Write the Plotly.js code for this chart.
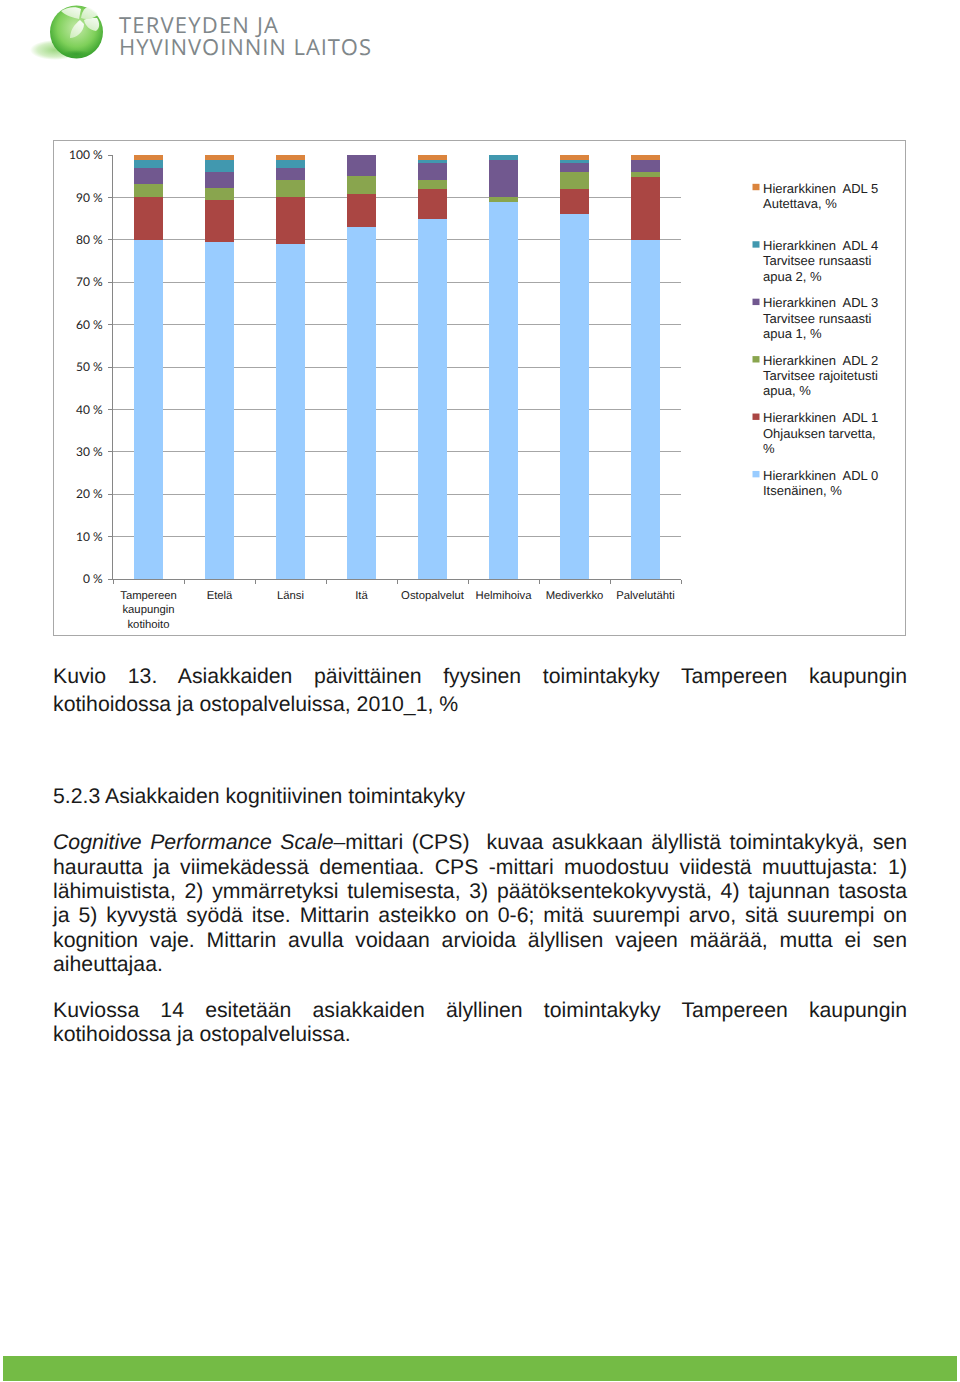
<!DOCTYPE html>
<html lang="fi">
<head>
<meta charset="utf-8">
<script src="https://cdn.plot.ly/plotly-3.0.1.min.js"></script>
<style>
html,body{margin:0;padding:0;background:#fff;}
#page{position:relative;width:960px;height:1382px;overflow:hidden;font-family:"Liberation Sans",Arial,sans-serif;color:#1a1a1a;text-rendering:geometricPrecision;}
#logo{position:absolute;left:0;top:0;}
#chart{position:absolute;left:53px;top:140px;width:851px;height:494px;border:1.5px solid #a8a8a8;}
.ln{position:absolute;left:53px;width:854px;font-size:21.25px;line-height:24px;white-space:nowrap;text-align:justify;text-align-last:justify;}
.ln.last{text-align-last:left;}
#foot{position:absolute;left:3px;top:1356px;width:954px;height:25px;background:#74bb45;}
</style>
</head>
<body>
<div id="page">
<svg id="logo" width="400" height="70" viewBox="0 0 400 70">
<defs>
<radialGradient id="g" cx="0.5" cy="0.42" r="0.6"><stop offset="0" stop-color="#c4eaa8"/><stop offset="0.6" stop-color="#7fd05a"/><stop offset="0.9" stop-color="#45aa35"/><stop offset="1" stop-color="#2f9a2c"/></radialGradient>
<radialGradient id="s"><stop offset="0" stop-color="#9fd884"/><stop offset="0.7" stop-color="#d5efc6"/><stop offset="1" stop-color="#ffffff"/></radialGradient>
<radialGradient id="d"><stop offset="0" stop-color="#2f9a2c" stop-opacity="0.75"/><stop offset="1" stop-color="#2f9a2c" stop-opacity="0"/></radialGradient>
<linearGradient id="p" x1="0.8" y1="0" x2="0.2" y2="1"><stop offset="0" stop-color="#ffffff"/><stop offset="1" stop-color="#d6f0c6"/></linearGradient>
</defs>
<ellipse cx="55" cy="50" rx="25" ry="10" fill="url(#s)"/>
<circle cx="76.5" cy="32" r="26.5" fill="url(#g)"/>
<ellipse cx="76" cy="54" rx="14" ry="4" fill="url(#d)"/>
<g fill="url(#p)" opacity="0.92">
<path d="M79 19C74 18 66 16 61 11C67 7 76 6 81 9Z"/>
<path d="M81 18C82 12 84 8 88 7C92 9 96 11 98 15C92 19 86 20 81 18Z"/>
<path d="M80 20C75 24 70 30 70 38C76 38 84 32 84 24Z"/>
<path d="M84 20C88 18 94 18 97 18C100 23 100 28 96 31C90 30 85 26 84 20Z"/>
</g>
<text x="119" y="33" font-family="Open Sans" font-size="22" fill="#80878a" textLength="159" lengthAdjust="spacing">TERVEYDEN JA</text>
<text x="119" y="55" font-family="Open Sans" font-size="22" fill="#80878a" textLength="252" lengthAdjust="spacing">HYVINVOINNIN LAITOS</text>
</svg>
<div id="chart"></div>
<div class="ln" style="top:664px">Kuvio 13. Asiakkaiden päivittäinen fyysinen toimintakyky Tampereen kaupungin</div>
<div class="ln last" style="top:692px">kotihoidossa ja ostopalveluissa, 2010_1, %</div>
<div class="ln last" style="top:784px">5.2.3 Asiakkaiden kognitiivinen toimintakyky</div>
<div class="ln" style="top:830px"><i>Cognitive Performance Scale</i>–mittari (CPS)&nbsp; kuvaa asukkaan älyllistä toimintakykyä, sen</div>
<div class="ln" style="top:855px">haurautta ja viimekädessä dementiaa. CPS -mittari muodostuu viidestä muuttujasta: 1)</div>
<div class="ln" style="top:879px">lähimuistista, 2) ymmärretyksi tulemisesta, 3) päätöksentekokyvystä, 4) tajunnan tasosta</div>
<div class="ln" style="top:903px">ja 5) kyvystä syödä itse. Mittarin asteikko on 0-6; mitä suurempi arvo, sitä suurempi on</div>
<div class="ln" style="top:928px">kognition vaje. Mittarin avulla voidaan arvioida älyllisen vajeen määrää, mutta ei sen</div>
<div class="ln last" style="top:952px">aiheuttajaa.</div>
<div class="ln" style="top:998px">Kuviossa 14 esitetään asiakkaiden älyllinen toimintakyky Tampereen kaupungin</div>
<div class="ln last" style="top:1022px">kotihoidossa ja ostopalveluissa.</div>
<div id="foot"></div>
</div>
<script>
const categories = ["Tampereen<br>kaupungin<br>kotihoito","Etelä","Länsi","Itä","Ostopalvelut","Helmihoiva","Mediverkko","Palvelutähti"];
const adl0 = [80.0,79.4,79.1,83.0,84.9,88.9,86.0,79.9];
const adl1 = [10.0,9.9,10.9,7.9,7.0,0,5.9,15.0];
const adl2 = [3.1,2.9,4.0,4.1,2.1,1.1,4.0,1.0];
const adl3 = [3.9,3.9,3.0,5.0,4.0,8.9,2.1,3.0];
const adl4 = [1.9,2.8,1.9,0,0.9,1.1,0.9,0];
const adl5 = [1.1,1.1,1.1,0,1.1,0,1.1,1.1];
const yTickVals = [0,10,20,30,40,50,60,70,80,90,100];
const yTickText = ["0 %","10 %","20 %","30 %","40 %","50 %","60 %","70 %","80 %","90 %","100 %"];
const seriesNames = ["Hierarkkinen ADL 0 Itsenäinen, %","Hierarkkinen ADL 1 Ohjauksen tarvetta, %","Hierarkkinen ADL 2 Tarvitsee rajoitetusti apua, %","Hierarkkinen ADL 3 Tarvitsee runsaasti apua 1, %","Hierarkkinen ADL 4 Tarvitsee runsaasti apua 2, %","Hierarkkinen ADL 5 Autettava, %"];
const legendLines = [
 ["Hierarkkinen  ADL 0","Itsenäinen, %"],
 ["Hierarkkinen  ADL 1","Ohjauksen tarvetta,","%"],
 ["Hierarkkinen  ADL 2","Tarvitsee rajoitetusti","apua, %"],
 ["Hierarkkinen  ADL 3","Tarvitsee runsaasti","apua 1, %"],
 ["Hierarkkinen  ADL 4","Tarvitsee runsaasti","apua 2, %"],
 ["Hierarkkinen  ADL 5","Autettava, %"]];
const seriesValues = [adl0,adl1,adl2,adl3,adl4,adl5];
const seriesColors = ["#99ccff","#aa4643","#89a54e","#71588f","#4198af","#db843d"];

// layout geometry (page pixels)
const W=851,H=494,M={l:59,r:224,t:14,b:56.2},ORG={x:54.5,y:141.5};
const pw=W-M.l-M.r, ph=H-M.t-M.b;
const fx=p=>(p-ORG.x-M.l)/pw, fy=p=>1-(p-ORG.y-M.t)/ph;
const LEG_TOP=188.5, LEG_STEP=57.4, LINE=15.3, TEXT_X=762, SW_L=753, SW_R=760, SW=3.2;

const annotations=[], shapes=[];
legendLines.forEach((lines,i)=>{
  const y0=LEG_TOP+(5-i)*LEG_STEP;
  lines.forEach((t,j)=>annotations.push({xref:"paper",yref:"paper",x:fx(TEXT_X),y:fy(y0+j*LINE),text:t,showarrow:false,
    xanchor:"left",yanchor:"middle",borderpad:0,font:{family:"Liberation Sans",size:13,color:"#222"}}));
  shapes.push({type:"rect",xref:"paper",yref:"paper",x0:fx(SW_L),x1:fx(SW_R),y0:fy(y0-1+SW),y1:fy(y0-1-SW),
    fillcolor:seriesColors[i],line:{width:0}});
});

const traces = seriesValues.map((v,i)=>({type:"bar",x:categories,y:v,name:seriesNames[i],marker:{color:seriesColors[i]},hoverinfo:"x+y+name"}));
const layout = {
  width:W,height:H,barmode:"stack",bargap:0.6,showlegend:false,
  paper_bgcolor:"#fff",plot_bgcolor:"#fff",
  margin:{l:M.l,r:M.r,t:M.t,b:M.b,pad:0},
  font:{family:"Liberation Sans, Arial, sans-serif",color:"#222"},
  annotations,shapes,
  xaxis:{type:"category",tickson:"boundaries",ticks:"outside",ticklen:4,tickcolor:"#868686",
         showline:true,linecolor:"#868686",linewidth:1,showgrid:false,tickangle:0,
         tickfont:{size:11.3,color:"#222"},ticklabelstandoff:5,automargin:false},
  yaxis:{range:[0,100],tickmode:"array",tickvals:yTickVals,ticktext:yTickText,ticks:"outside",ticklen:4,
         tickcolor:"#868686",showline:true,linecolor:"#868686",linewidth:1,
         showgrid:true,gridcolor:"#a6a6a6",gridwidth:1,zeroline:false,ticklabelstandoff:3,
         tickfont:{family:"Lato, sans-serif",size:12,color:"#222"},automargin:false}
};
Plotly.newPlot("chart",traces,layout,{displayModeBar:false,staticPlot:true});
</script>
</body>
</html>
